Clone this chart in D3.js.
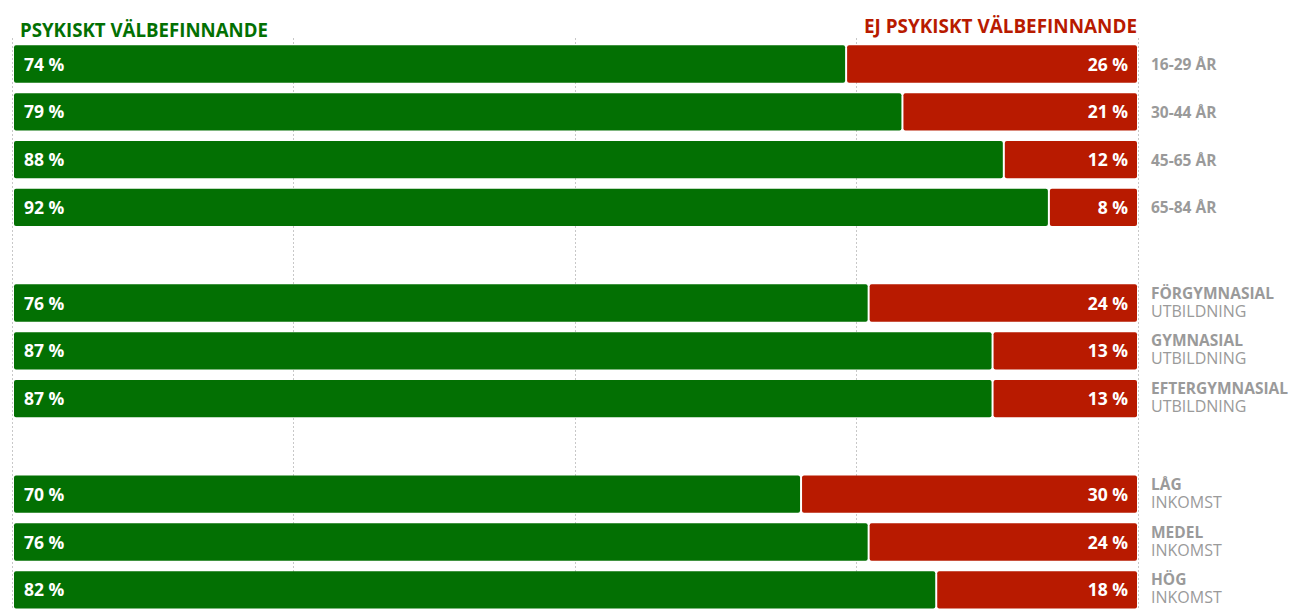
<!DOCTYPE html>
<html>
<head>
<meta charset="utf-8">
<title>Psykiskt välbefinnande</title>
<script src="https://d3js.org/d3.v7.min.js"></script>
<style>
  body { margin: 0; background: #fff; }
  text { font-family: "Open Sans", sans-serif; }
</style>
</head>
<body>
<div id="chart"></div>
<script>
// rows, including the two blank spacer rows between groups
var rows = ["a1", "a2", "a3", "a4", "gap1", "e1", "e2", "e3", "gap2", "i1", "i2", "i3"];
var labelTop = ["16-29 ÅR", "30-44 ÅR", "45-65 ÅR", "65-84 ÅR", "",
                "FÖRGYMNASIAL", "GYMNASIAL", "EFTERGYMNASIAL", "",
                "LÅG", "MEDEL", "HÖG"];
var labelBottom = ["", "", "", "", "",
                   "UTBILDNING", "UTBILDNING", "UTBILDNING", "",
                   "INKOMST", "INKOMST", "INKOMST"];
var wellBeing = [74, 79, 88, 92, null, 76, 87, 87, null, 70, 76, 82];
var notWellBeing = [26, 21, 12, 8, null, 24, 13, 13, null, 30, 24, 18];
var gridTicks = [0, 25, 50, 75, 100];

var W = 1300, H = 610;
var green = "#037003", red = "#b81a00", grey = "#9a9a9a";

var svg = d3.select("#chart").append("svg").attr("width", W).attr("height", H);

var x = d3.scaleLinear().domain([0, 100]).range([12.5, 1139]);
var y = d3.scaleBand().domain(rows).range([40.1, 613.7]).paddingInner(0.22).paddingOuter(0.11);

// dashed grid
svg.append("g").selectAll("line").data(gridTicks).join("line")
    .attr("x1", function(d) { return Math.round(x(d)) - 0.5; })
    .attr("x2", function(d) { return Math.round(x(d)) - 0.5; })
    .attr("y1", 38).attr("y2", H)
    .attr("stroke", "#c8c8c8").attr("stroke-width", 1).attr("stroke-dasharray", "2,2");

// headers
svg.append("text").attr("x", 20).attr("y", 37).attr("fill", green)
    .attr("font-size", 19).attr("font-weight", 700)
    .attr("textLength", 248).attr("lengthAdjust", "spacingAndGlyphs")
    .text("PSYKISKT VÄLBEFINNANDE");
svg.append("text").attr("x", 864).attr("y", 33).attr("fill", red)
    .attr("font-size", 19).attr("font-weight", 700)
    .attr("textLength", 273).attr("lengthAdjust", "spacingAndGlyphs")
    .text("EJ PSYKISKT VÄLBEFINNANDE");

var data = rows.map(function(r, i) {
  return { row: r, good: wellBeing[i], bad: notWellBeing[i], top: labelTop[i], bottom: labelBottom[i] };
});
var bars = data.filter(function(d) { return d.good != null; });

var g = svg.append("g").selectAll("g").data(bars).join("g");

g.append("rect")
    .attr("x", x(0) + 1.5)
    .attr("y", function(d) { return y(d.row); })
    .attr("width", function(d) { return x(d.good) - x(0) - 2.5; })
    .attr("height", y.bandwidth())
    .attr("rx", 2).attr("fill", green);

g.append("rect")
    .attr("x", function(d) { return x(d.good) + 1; })
    .attr("y", function(d) { return y(d.row); })
    .attr("width", function(d) { return x(100) - x(d.good) - 3; })
    .attr("height", y.bandwidth())
    .attr("rx", 2).attr("fill", red);

g.append("text")
    .attr("x", 24)
    .attr("y", function(d) { return y(d.row) + y.bandwidth() / 2 + 6.5; })
    .attr("fill", "#fff").attr("font-size", 17.5).attr("font-weight", 700)
    .text(function(d) { return d.good + " %"; });

g.append("text")
    .attr("x", 1128).attr("text-anchor", "end")
    .attr("y", function(d) { return y(d.row) + y.bandwidth() / 2 + 6.5; })
    .attr("fill", "#fff").attr("font-size", 17.5).attr("font-weight", 700)
    .text(function(d) { return d.bad + " %"; });

// category labels
g.append("text")
    .attr("x", 1151)
    .attr("y", function(d) {
      var c = y(d.row) + y.bandwidth() / 2;
      return d.bottom ? c - 4.5 : c + 6;
    })
    .attr("fill", grey).attr("font-size", 15.5).attr("font-weight", 700)
    .text(function(d) { return d.top; });

g.filter(function(d) { return d.bottom; }).append("text")
    .attr("x", 1151)
    .attr("y", function(d) { return y(d.row) + y.bandwidth() / 2 + 13.5; })
    .attr("fill", grey).attr("font-size", 16).attr("font-weight", 400)
    .text(function(d) { return d.bottom; });
</script>
</body>
</html>
